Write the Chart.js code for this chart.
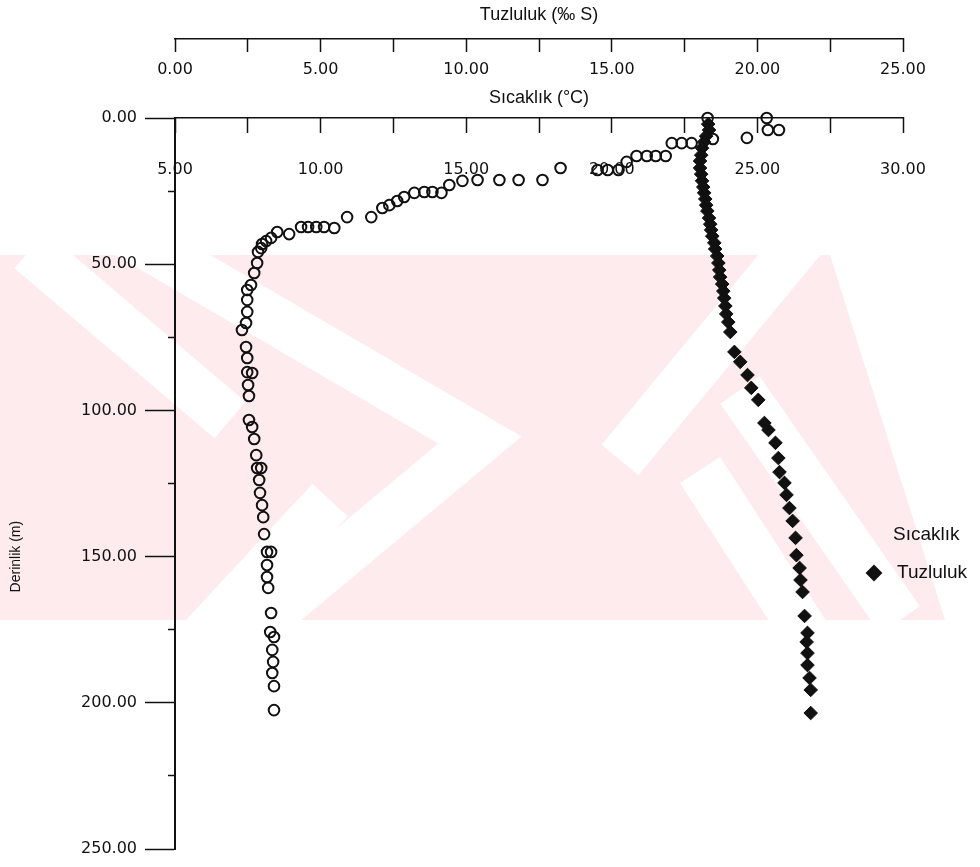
<!DOCTYPE html>
<html>
<head>
<meta charset="utf-8">
<script src="https://cdn.jsdelivr.net/npm/chart.js@4/dist/chart.umd.min.js"></script>
<style>
  html, body { margin: 0; padding: 0; background: #fff; }
  #wrap { width: 980px; height: 867px; position: relative; }
</style>
</head>
<body>
<div id="wrap"><canvas id="profile"></canvas></div>
<script>
// Sıcaklık (°C) readings and their depths (m)
const tempValues = [23.29, 25.32, 25.36, 25.74, 24.64, 23.47, 22.06, 22.40, 22.74, 20.85, 21.20, 21.51, 21.85,
  20.51, 18.24, 19.51, 19.86, 20.23, 17.62, 16.80, 16.14, 15.39, 14.87, 14.42, 13.84, 13.56, 13.22, 14.15,
  12.87, 12.63, 12.36, 12.12, 11.74, 10.91, 10.12, 9.85, 9.57, 9.33, 10.47, 8.51, 8.92, 8.30, 8.13, 7.99,
  7.96, 7.85, 7.82, 7.72, 7.61, 7.48, 7.48, 7.48, 7.44, 7.30, 7.44, 7.48, 7.48, 7.65, 7.51, 7.54, 7.54,
  7.65, 7.72, 7.79, 7.96, 7.82, 7.89, 7.92, 7.99, 8.03, 8.06, 8.16, 8.30, 8.16, 8.16, 8.20, 8.30, 8.27,
  8.40, 8.34, 8.37, 8.34, 8.40, 8.40];
const tempDepths = [0, 0, 4.1, 4.1, 6.8, 7.2, 8.6, 8.6, 8.6, 13.0, 13.0, 13.0, 13.0,
  15.0, 17.1, 17.8, 17.8, 17.8, 21.2, 21.2, 21.2, 21.2, 21.5, 22.9, 25.3, 25.3, 25.6, 25.6,
  27.0, 28.4, 29.8, 30.8, 33.9, 33.9, 37.3, 37.3, 37.3, 37.3, 37.6, 39.0, 39.7, 41.0, 42.1, 43.1,
  44.5, 45.8, 49.6, 53.0, 57.1, 58.8, 62.2, 66.3, 70.1, 72.5, 78.3, 82.1, 86.9, 87.2, 91.3, 95.1, 103.3,
  105.7, 109.8, 115.3, 119.7, 119.7, 123.8, 128.2, 132.4, 136.5, 142.3, 148.4, 148.4, 152.9, 157.0, 160.7, 169.3, 175.8,
  177.5, 181.9, 186.0, 189.8, 194.3, 202.5];

// Tuzluluk (‰ S) readings and their depths (m)
const salValues = [18.31, 18.34, 18.24, 18.17, 18.10, 18.07, 18.03, 18.03, 18.07, 18.10, 18.14, 18.17, 18.21,
  18.24, 18.28, 18.34, 18.38, 18.41, 18.45, 18.52, 18.55, 18.62, 18.66, 18.69, 18.72, 18.79, 18.83, 18.86,
  18.90, 18.93, 19.00, 19.07, 19.21, 19.41, 19.66, 19.79, 20.03, 20.24, 20.38, 20.62, 20.72, 20.76, 20.93,
  21.00, 21.10, 21.21, 21.31, 21.34, 21.45, 21.48, 21.55, 21.62, 21.72, 21.69, 21.72, 21.72, 21.79, 21.83, 21.83];
const salDepths = [2.1, 4.1, 6.2, 8.2, 10.3, 12.7, 14.7, 17.1, 19.2, 21.5, 23.6, 25.6, 27.7,
  29.8, 31.8, 34.2, 36.3, 38.3, 40.4, 42.7, 44.8, 47.2, 49.6, 52.0, 54.4, 56.8, 59.2, 61.6,
  64.3, 67.0, 69.8, 73.2, 80.0, 83.4, 87.9, 92.3, 96.4, 104.3, 106.7, 111.1, 116.3, 121.1, 124.8,
  128.9, 133.4, 137.8, 143.6, 149.5, 153.9, 158.0, 162.1, 170.3, 176.1, 179.2, 183.0, 187.1, 191.5, 195.6, 203.5];

const seriesNames = ['Sıcaklık', 'Tuzluluk'];
const tempTitle = 'Sıcaklık (°C)';
const salTitle = 'Tuzluluk (‰ S)';
const depthTitle = 'Derinlik (m)';

const ink = '#111';
const tickFont = { family: 'DejaVu Sans', size: 16 };
const titleFont = { family: 'Liberation Sans', size: 18 };
const twoDec = (v) => Number(v).toFixed(2);
const everyFive = (v) => (Math.abs(v % 5) < 1e-6 ? Number(v).toFixed(2) : '');

// faint pink scan watermark behind the plot (rough shape only)
const watermark = {
  id: 'watermark',
  beforeDraw(chart) {
    const { ctx } = chart;
    ctx.save();
    ctx.beginPath();
    ctx.rect(0, 255, 980, 365);
    ctx.clip();
    ctx.fillStyle = '#fdebee';
    ctx.fillRect(0, 255, 980, 365);
    ctx.strokeStyle = '#fff';
    ctx.lineCap = 'butt';
    ctx.lineWidth = 48;
    const arms = [
      [[120, 230], [480, 440], [240, 640]],
      [[30, 250], [230, 420]],
      [[200, 640], [330, 500]],
      [[620, 460], [810, 230]],
      [[700, 470], [810, 640]],
      [[740, 390], [900, 620]]
    ];
    arms.forEach((pts) => {
      ctx.beginPath();
      ctx.moveTo(pts[0][0], pts[0][1]);
      pts.slice(1).forEach((p) => ctx.lineTo(p[0], p[1]));
      ctx.stroke();
    });
    ctx.fillStyle = '#fff';
    ctx.beginPath();
    ctx.moveTo(830, 255);
    ctx.lineTo(980, 255);
    ctx.lineTo(980, 620);
    ctx.lineTo(945, 620);
    ctx.closePath();
    ctx.fill();
    ctx.restore();
  }
};

// y title and the legend sit on top of the plot, so they are drawn here
const extras = {
  id: 'extras',
  afterDraw(chart) {
    const { ctx, scales } = chart;
    ctx.save();
    ctx.fillStyle = ink;
    ctx.font = '14px "Liberation Sans"';
    ctx.textAlign = 'center';
    ctx.textBaseline = 'middle';
    ctx.translate(16, scales.y.getPixelForValue(150));
    ctx.rotate(-Math.PI / 2);
    ctx.fillText(depthTitle, 0, 0);
    ctx.restore();

    ctx.save();
    ctx.fillStyle = ink;
    ctx.font = '19px "Liberation Sans"';
    ctx.textAlign = 'left';
    ctx.textBaseline = 'middle';
    const ds = chart.data.datasets;
    ctx.fillText(ds[0].label, 893, 535);
    ctx.fillStyle = ds[1].backgroundColor;
    ctx.strokeStyle = ds[1].borderColor;
    Chart.helpers.drawPoint(ctx, { pointStyle: ds[1].pointStyle, radius: 7, borderWidth: 1 }, 874, 573);
    ctx.fillStyle = ink;
    ctx.fillText(ds[1].label, 897, 573);
    ctx.restore();
  }
};

const ctx = document.getElementById('profile').getContext('2d');
const chart = new Chart(ctx, {
  type: 'scatter',
  data: {
    datasets: [{
      label: seriesNames[0],
      xAxisID: 'xT',
      yAxisID: 'y',
      data: tempValues.map((t, i) => ({ x: t, y: tempDepths[i] })),
      pointStyle: 'circle',
      pointRadius: 5.3,
      pointHoverRadius: 5.3,
      borderWidth: 2,
      borderColor: ink,
      backgroundColor: 'rgba(0,0,0,0)',
      clip: false
    }, {
      label: seriesNames[1],
      xAxisID: 'xS',
      yAxisID: 'y',
      data: salValues.map((s, i) => ({ x: s, y: salDepths[i] })),
      pointStyle: 'rectRot',
      pointRadius: 6.8,
      pointHoverRadius: 6.8,
      borderWidth: 1,
      borderColor: ink,
      backgroundColor: ink,
      clip: false
    }]
  },
  options: {
    responsive: true,
    maintainAspectRatio: false,
    animation: false,
    events: [],
    layout: { padding: { top: 0, left: 0, right: 77, bottom: 18 } },
    plugins: {
      legend: { display: false },
      tooltip: { enabled: false }
    },
    scales: {
      xS: {
        type: 'linear',
        position: 'top',
        weight: 1,
        min: 0,
        max: 25,
        border: { display: true, color: ink, width: 1.5 },
        grid: { drawOnChartArea: false, tickLength: -13, tickWidth: 1.5, tickColor: ink },
        ticks: {
          stepSize: 2.5, autoSkip: false, maxRotation: 0, mirror: true, padding: 21,
          color: ink, font: tickFont, callback: everyFive
        },
        title: { display: true, text: salTitle, color: ink, font: titleFont, padding: { top: 4, bottom: 0 } },
        afterFit: (s) => { s.height = 39; }
      },
      xT: {
        type: 'linear',
        position: 'top',
        weight: 0,
        min: 5,
        max: 30,
        border: { display: true, color: ink, width: 1.5 },
        grid: { drawOnChartArea: false, tickLength: -15, tickWidth: 1.5, tickColor: ink },
        ticks: {
          stepSize: 2.5, autoSkip: false, maxRotation: 0, mirror: true, padding: 42,
          color: ink, font: tickFont, callback: everyFive
        },
        title: { display: true, text: tempTitle, color: ink, font: titleFont, padding: { top: 48, bottom: 0 } },
        afterFit: (s) => { s.height = 79; }
      },
      y: {
        type: 'linear',
        position: 'left',
        weight: 1,
        reverse: true,
        min: 0,
        max: 250,
        border: { display: false },
        grid: { drawOnChartArea: false, tickLength: 23, tickWidth: 1.5, tickColor: ink },
        ticks: { stepSize: 50, padding: 8, color: ink, font: tickFont, callback: twoDec },
        afterFit: (s) => { s.width = 168; }
      },
      yMinor: {
        type: 'linear',
        position: 'left',
        weight: 0,
        reverse: true,
        min: 0,
        max: 250,
        border: { display: true, color: ink, width: 2 },
        grid: { drawOnChartArea: false, tickLength: 7, tickWidth: 1.5, tickColor: ink },
        ticks: { stepSize: 25, display: false },
        afterFit: (s) => { s.width = 7; }
      }
    }
  },
  plugins: [watermark, extras]
});
</script>
</body>
</html>
